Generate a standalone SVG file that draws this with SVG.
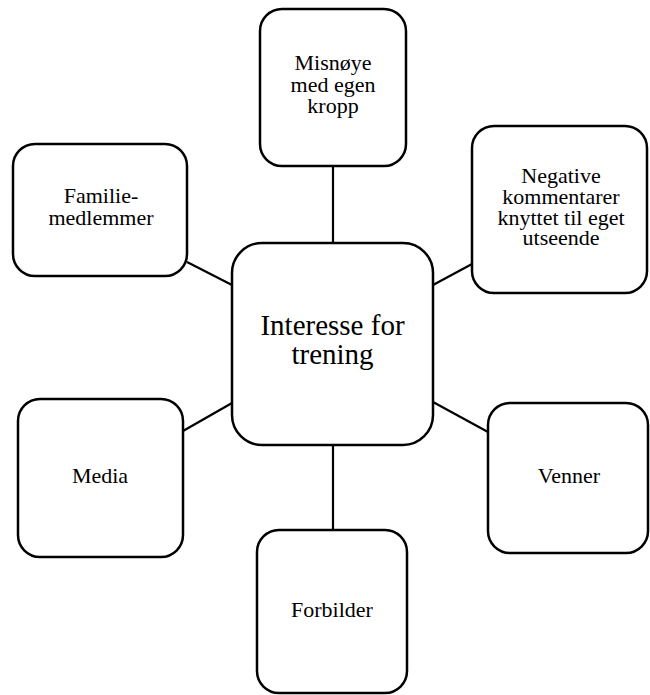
<svg xmlns="http://www.w3.org/2000/svg" width="650" height="695" viewBox="0 0 650 695">
  <style>
    .box { fill: #ffffff; stroke: #000000; stroke-width: 2.5; }
    .link { stroke: #000000; stroke-width: 2.2; fill: none; }
    .label { font-family: 'Liberation Serif', 'DejaVu Serif', serif; fill: #000000; text-anchor: middle; }
    .small { font-size: 22px; }
    .big { font-size: 29px; }
  </style>
  <rect width="650" height="695" fill="#ffffff"/>

  <!-- connectors from the centre node to each surrounding node -->
  <g id="connectors">
    <line class="link" x1="333" y1="166" x2="333" y2="243"/>
    <line class="link" x1="187" y1="262" x2="232" y2="285"/>
    <line class="link" x1="433" y1="285" x2="472" y2="264"/>
    <line class="link" x1="183" y1="431" x2="232" y2="403"/>
    <line class="link" x1="433" y1="402" x2="488" y2="432"/>
    <line class="link" x1="333" y1="445" x2="333" y2="530"/>
  </g>

  <g id="node-center">
    <rect class="box" x="232" y="243" width="201" height="202" rx="30"/>
    <text class="label big" font-family="Liberation Serif, serif" x="332.5" y="335">Interesse for</text>
    <text class="label big" font-family="Liberation Serif, serif" x="332.5" y="364">trening</text>
  </g>

  <g id="node-misnoye">
    <rect class="box" x="260" y="9" width="146" height="157" rx="22"/>
    <text class="label small" font-family="Liberation Serif, serif" x="333" y="70">Misnøye</text>
    <text class="label small" font-family="Liberation Serif, serif" x="333" y="92">med egen</text>
    <text class="label small" font-family="Liberation Serif, serif" x="333" y="113">kropp</text>
  </g>

  <g id="node-familie">
    <rect class="box" x="13" y="144" width="174" height="132" rx="22"/>
    <text class="label small" font-family="Liberation Serif, serif" x="101" y="203">Familie-</text>
    <text class="label small" font-family="Liberation Serif, serif" x="101" y="225">medlemmer</text>
  </g>

  <g id="node-negative">
    <rect class="box" x="472" y="126" width="175" height="167" rx="22"/>
    <text class="label small" font-family="Liberation Serif, serif" x="561" y="183">Negative</text>
    <text class="label small" font-family="Liberation Serif, serif" x="561" y="204">kommentarer</text>
    <text class="label small" font-family="Liberation Serif, serif" x="561" y="225">knyttet til eget</text>
    <text class="label small" font-family="Liberation Serif, serif" x="561" y="245">utseende</text>
  </g>

  <g id="node-media">
    <rect class="box" x="18" y="399" width="165" height="158" rx="22"/>
    <text class="label small" font-family="Liberation Serif, serif" x="100" y="483">Media</text>
  </g>

  <g id="node-venner">
    <rect class="box" x="488" y="403" width="160" height="150" rx="22"/>
    <text class="label small" font-family="Liberation Serif, serif" x="569" y="483">Venner</text>
  </g>

  <g id="node-forbilder">
    <rect class="box" x="257" y="530" width="150" height="163" rx="22"/>
    <text class="label small" font-family="Liberation Serif, serif" x="332" y="617">Forbilder</text>
  </g>
</svg>
